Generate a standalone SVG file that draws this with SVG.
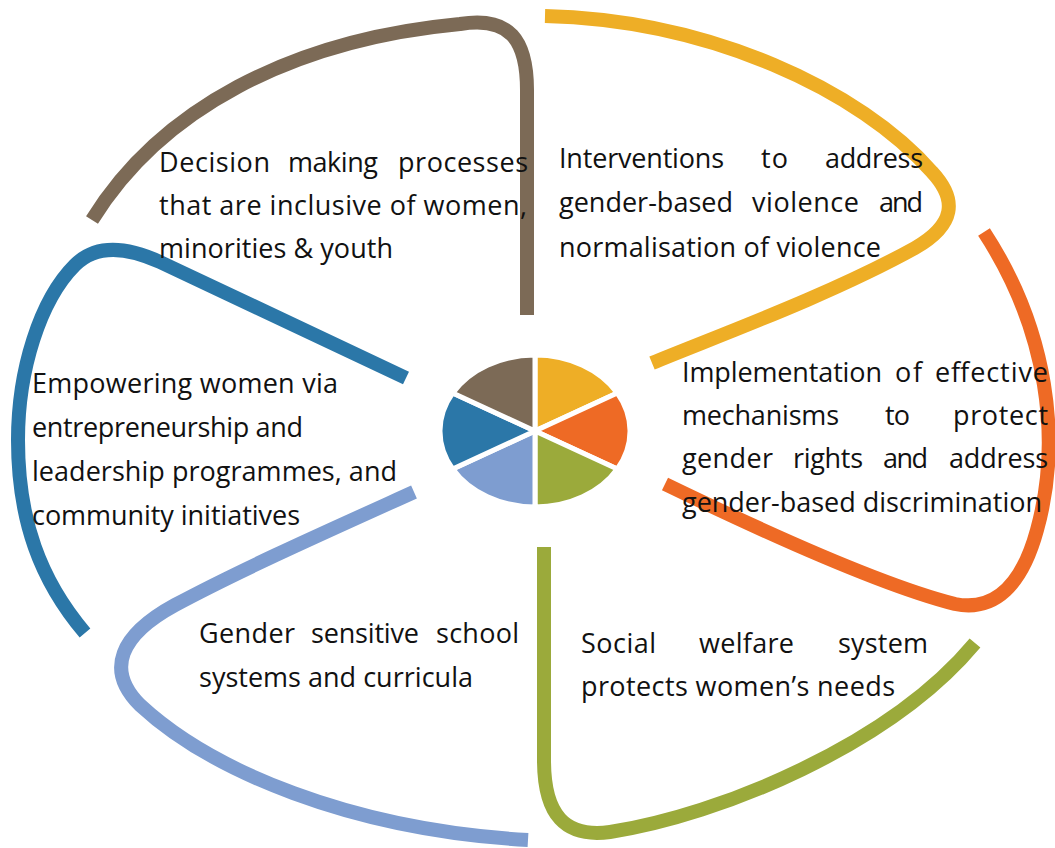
<svg xmlns="http://www.w3.org/2000/svg" width="1055" height="848" viewBox="0 0 1055 848">
  <style>
    .arc { fill: none; stroke-width: 14; stroke-linecap: butt; stroke-linejoin: round; }
    .slice { stroke: #ffffff; stroke-width: 5; stroke-linejoin: round; }
    .lbl { font-family: "Open Sans", Lato, "Liberation Sans", sans-serif; font-size: 27px; fill: #111111; }
    .brown { stroke: #7C6A56; } .yellow { stroke: #EEAE26; } .orange { stroke: #EE6A25; }
    .green { stroke: #9BAA3B; } .lblue { stroke: #7E9DD0; } .blue { stroke: #2B77A8; }
  </style>

  <!-- outer curved strokes, one per theme -->
  <g id="connectors">
    <path class="arc brown" d="M92,220 C160,110 290,40 460,24 C510,16 527,40 527,90 L527,315"/>
    <path class="arc yellow" d="M545,16 C710,20 860,90 932,172 C958,200 955,225 915,248 C830,295 720,335 652,363"/>
    <path class="arc orange" d="M984,232 C1048,330 1062,440 1037,530 C1022,585 995,612 955,604 C880,585 760,530 665,484"/>
    <path class="arc green" d="M544,547 L544,760 C544,815 565,838 610,832 C720,815 890,745 975,643"/>
    <path class="arc lblue" d="M414,492 C330,530 240,570 175,605 C120,635 105,670 140,705 C210,770 350,830 528,840"/>
    <path class="arc blue" d="M406,378 L160,262 C125,246 95,245 75,265 C40,300 18,370 18,440 C18,520 40,580 85,633"/>
  </g>

  <!-- central pie -->
  <g id="pie">
    <path class="slice" fill="#EEAE26" d="M535,431 L535,355 A95,76 0 0 1 617.3,393 Z"/>
    <path class="slice" fill="#EE6A25" d="M535,431 L617.3,393 A95,76 0 0 1 617.3,469 Z"/>
    <path class="slice" fill="#9BAA3B" d="M535,431 L617.3,469 A95,76 0 0 1 535,507 Z"/>
    <path class="slice" fill="#7E9DD0" d="M535,431 L535,507 A95,76 0 0 1 452.7,469 Z"/>
    <path class="slice" fill="#2B77A8" d="M535,431 L452.7,469 A95,76 0 0 1 452.7,393 Z"/>
    <path class="slice" fill="#7C6A56" d="M535,431 L452.7,393 A95,76 0 0 1 535,355 Z"/>
  </g>

  <g id="decision">
    <text class="lbl" x="159" y="172" textLength="111" lengthAdjust="spacing">Decision</text>
    <text class="lbl" x="288" y="172" textLength="90" lengthAdjust="spacing">making</text>
    <text class="lbl" x="398" y="172" textLength="130" lengthAdjust="spacing">processes</text>
    <text class="lbl" x="159" y="215" textLength="368" lengthAdjust="spacing">that are inclusive of women,</text>
    <text class="lbl" x="159" y="258" textLength="234" lengthAdjust="spacing">minorities &amp; youth</text>
  </g>

  <g id="interventions">
    <text class="lbl" x="559" y="168" textLength="165" lengthAdjust="spacing">Interventions</text>
    <text class="lbl" x="761" y="168" textLength="27" lengthAdjust="spacing">to</text>
    <text class="lbl" x="825" y="168" textLength="98" lengthAdjust="spacing">address</text>
    <text class="lbl" x="559" y="212" textLength="174" lengthAdjust="spacing">gender-based</text>
    <text class="lbl" x="752" y="212" textLength="107" lengthAdjust="spacing">violence</text>
    <text class="lbl" x="879" y="212" textLength="44" lengthAdjust="spacing">and</text>
    <text class="lbl" x="559" y="257" textLength="322" lengthAdjust="spacing">normalisation of violence</text>
  </g>

  <g id="implementation">
    <text class="lbl" x="682" y="382" textLength="200" lengthAdjust="spacing">Implementation</text>
    <text class="lbl" x="895" y="382" textLength="27" lengthAdjust="spacing">of</text>
    <text class="lbl" x="935" y="382" textLength="113" lengthAdjust="spacing">effective</text>
    <text class="lbl" x="682" y="425" textLength="157" lengthAdjust="spacing">mechanisms</text>
    <text class="lbl" x="885" y="425" textLength="25" lengthAdjust="spacing">to</text>
    <text class="lbl" x="953" y="425" textLength="95" lengthAdjust="spacing">protect</text>
    <text class="lbl" x="682" y="468" textLength="91" lengthAdjust="spacing">gender</text>
    <text class="lbl" x="793" y="468" textLength="70" lengthAdjust="spacing">rights</text>
    <text class="lbl" x="883" y="468" textLength="45" lengthAdjust="spacing">and</text>
    <text class="lbl" x="949" y="468" textLength="99" lengthAdjust="spacing">address</text>
    <text class="lbl" x="682" y="512" textLength="360" lengthAdjust="spacing">gender-based discrimination</text>
  </g>

  <g id="empowering">
    <text class="lbl" x="32" y="393" textLength="306" lengthAdjust="spacing">Empowering women via</text>
    <text class="lbl" x="32" y="437" textLength="271" lengthAdjust="spacing">entrepreneurship and</text>
    <text class="lbl" x="32" y="481" textLength="365" lengthAdjust="spacing">leadership programmes, and</text>
    <text class="lbl" x="32" y="525" textLength="268" lengthAdjust="spacing">community initiatives</text>
  </g>

  <g id="school">
    <text class="lbl" x="199" y="643" textLength="96" lengthAdjust="spacing">Gender</text>
    <text class="lbl" x="311" y="643" textLength="108" lengthAdjust="spacing">sensitive</text>
    <text class="lbl" x="436" y="643" textLength="83" lengthAdjust="spacing">school</text>
    <text class="lbl" x="199" y="687" textLength="274" lengthAdjust="spacing">systems and curricula</text>
  </g>

  <g id="welfare">
    <text class="lbl" x="581" y="653" textLength="75" lengthAdjust="spacing">Social</text>
    <text class="lbl" x="699" y="653" textLength="95" lengthAdjust="spacing">welfare</text>
    <text class="lbl" x="838" y="653" textLength="90" lengthAdjust="spacing">system</text>
    <text class="lbl" x="581" y="696" textLength="314" lengthAdjust="spacing">protects women’s needs</text>
  </g>
</svg>
